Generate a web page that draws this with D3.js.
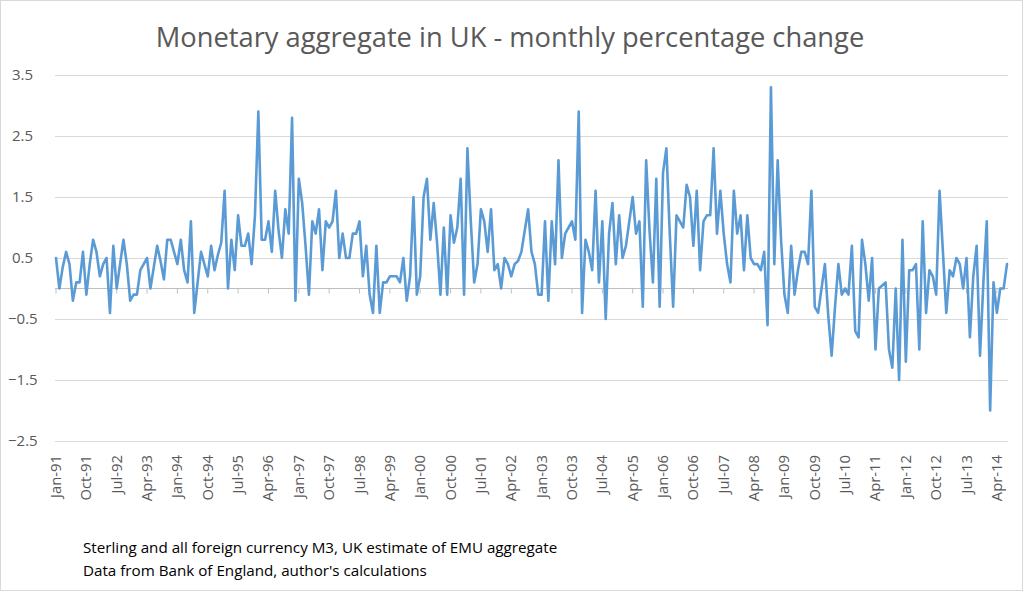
<!DOCTYPE html>
<html><head><meta charset="utf-8">
<script src="https://cdn.jsdelivr.net/npm/d3@7"></script>
<style>body{margin:0;background:#fff}svg{display:block}</style>
</head><body>
<script>
const startYear = 1991;
const values = [
0.5,0.0,0.35,0.6,0.4,-0.2,0.1,0.1,0.6,-0.1,0.4,0.8,
0.6,0.2,0.4,0.5,-0.4,0.7,0.0,0.4,0.8,0.4,-0.2,-0.1,
-0.1,0.3,0.4,0.5,0.0,0.35,0.7,0.45,0.15,0.8,0.8,0.6,
0.4,0.8,0.3,0.1,1.1,-0.4,0.1,0.6,0.4,0.2,0.7,0.3,
0.55,0.75,1.6,0.0,0.8,0.3,1.2,0.7,0.7,0.9,0.4,1.2,
2.9,0.8,0.8,1.1,0.6,1.6,0.95,0.5,1.3,0.9,2.8,-0.2,
1.8,1.4,0.7,-0.1,1.1,0.9,1.3,0.3,1.1,1.0,1.1,1.6,
0.5,0.9,0.5,0.5,0.9,0.9,1.1,0.2,0.7,-0.1,-0.4,0.7,
-0.4,0.1,0.1,0.2,0.2,0.2,0.1,0.5,-0.2,0.2,1.5,-0.1,
0.2,1.5,1.8,0.8,1.4,0.75,-0.1,1.0,-0.1,1.2,0.75,1.0,
1.8,-0.1,2.3,1.1,0.1,0.4,1.3,1.1,0.6,1.3,0.3,0.4,
0.0,0.5,0.4,0.2,0.4,0.45,0.6,0.95,1.3,0.6,0.4,-0.1,
-0.1,1.1,-0.2,1.1,0.4,2.1,0.5,0.9,1.0,1.1,0.8,2.9,
-0.4,0.8,0.6,0.3,1.6,0.1,1.1,-0.5,0.9,1.4,0.4,1.2,
0.5,0.7,1.1,1.5,0.9,1.1,-0.3,2.1,0.95,0.1,1.8,-0.3,
1.9,2.3,0.9,-0.3,1.2,1.1,1.0,1.7,1.5,0.7,1.6,0.3,
1.1,1.2,1.2,2.3,0.9,1.6,0.9,0.4,0.1,1.6,0.9,1.2,
0.3,1.2,0.5,0.4,0.4,0.3,0.6,-0.6,3.3,0.4,2.1,0.8,
-0.1,-0.4,0.7,-0.1,0.3,0.6,0.6,0.4,1.6,-0.3,-0.4,0.0,
0.4,-0.45,-1.1,-0.3,0.4,-0.1,0.0,-0.1,0.7,-0.7,-0.8,0.8,
0.4,-0.2,0.5,-1.0,0.0,0.05,0.1,-1.0,-1.3,0.0,-1.5,0.8,
-1.2,0.3,0.3,0.4,-1.0,1.1,-0.4,0.3,0.2,-0.1,1.6,0.6,
-0.4,0.3,0.2,0.5,0.4,0.0,0.5,-0.8,0.2,0.7,-1.1,0.1,
1.1,-2.0,0.1,-0.4,0.0,0.0,0.4
];
const monthNames = ["Jan","Feb","Mar","Apr","May","Jun","Jul","Aug","Sep","Oct","Nov","Dec"];
const categories = values.map((v,i)=>{
  const y = startYear + Math.floor(i/12);
  return monthNames[i%12] + "-" + String(y%100).padStart(2,"0");
});
const yTicks = [3.5,2.5,1.5,0.5,-0.5,-1.5,-2.5];
const labelStep = 9;
const title = "Monetary aggregate in UK - monthly percentage change";
const notes = ["Sterling and all foreign currency M3, UK estimate of EMU aggregate",
               "Data from Bank of England, author's calculations"];

const W = 1024, H = 591;
const FONT = "Open Sans, Liberation Sans, sans-serif";
const svg = d3.select("body").append("svg").attr("width",W).attr("height",H);
svg.append("rect").attr("x",0.5).attr("y",0.5).attr("width",W-2).attr("height",H-1)
  .attr("fill","#fff").attr("stroke","#d9d9d9");

const x = d3.scalePoint().domain(categories).range([56,1007]);
const y = d3.scaleLinear().domain([-2.5,3.5]).range([441,75]);

// grid
svg.append("g").selectAll("line").data(yTicks).join("line")
  .attr("x1",55).attr("x2",1008)
  .attr("y1",d=>Math.round(y(d))+0.5).attr("y2",d=>Math.round(y(d))+0.5)
  .attr("stroke","#d9d9d9").attr("stroke-width",1);

// y labels (left aligned, positives offset by a minus-width)
svg.append("g").selectAll("text").data(yTicks).join("text")
  .attr("x",d=>d<0?8:12).attr("y",d=>y(d)+5).attr("text-anchor","start")
  .attr("font-family",FONT).attr("font-size",15)
  .attr("fill","#595959").text(d=>d3.format(".1f")(d));

// zero axis with ticks
const labelCats = categories.filter((c,i)=>i%labelStep===0);
const axisG = svg.append("g").attr("transform",`translate(0,${Math.round(y(0))+0.5})`);
axisG.append("line").attr("x1",55).attr("x2",1008).attr("stroke","#bfbfbf");
axisG.selectAll("line.t").data(labelCats).join("line").attr("class","t")
  .attr("x1",d=>x(d)).attr("x2",d=>x(d)).attr("y1",0).attr("y2",5).attr("stroke","#bfbfbf");

// x labels (bottom, rotated)
svg.append("g").selectAll("text").data(labelCats).join("text")
  .attr("transform",d=>`translate(${x(d)+5},455) rotate(-90)`)
  .attr("text-anchor","end")
  .attr("font-family",FONT).attr("font-size",14.8)
  .attr("fill","#595959").text(d=>d);

// line
const line = d3.line().x((d,i)=>x(categories[i])).y(d=>y(d));
svg.append("path").datum(values).attr("d",line)
  .attr("fill","none").attr("stroke","#5b9bd5").attr("stroke-width",2.6)
  .attr("stroke-linejoin","round").attr("stroke-linecap","round");

// title
svg.append("text").attr("x",510).attr("y",47).attr("text-anchor","middle")
  .attr("font-family",FONT).attr("font-size",27.3)
  .attr("fill","#595959").text(title);

// notes
svg.append("g").selectAll("text").data(notes).join("text")
  .attr("x",83).attr("y",(d,i)=>553+i*23)
  .attr("font-family",FONT).attr("font-size",15.2)
  .attr("fill","#000").text(d=>d);
</script>
</body></html>
